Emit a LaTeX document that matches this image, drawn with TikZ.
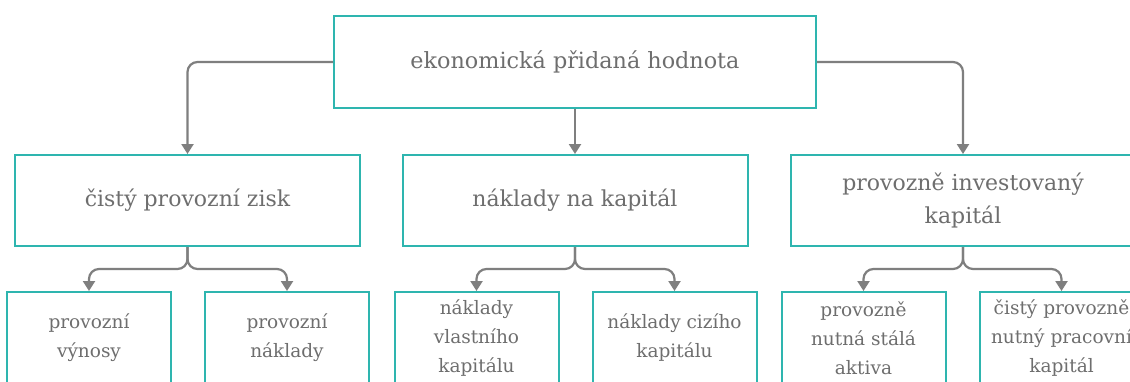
\documentclass[tikz,border=0pt]{standalone}
\usepackage{fontspec}
\setmainfont{DejaVu Serif}
\usetikzlibrary{arrows.meta}
\definecolor{boxline}{HTML}{2EB5AF}
\definecolor{txt}{HTML}{6E6E6E}
\definecolor{link}{HTML}{7F7F7F}
\tikzset{
  topbox/.style={draw=boxline, line width=2pt, fill=white, text=txt,
    minimum width=482pt, minimum height=92pt, align=center,
    font=\fontsize{22.3}{33}\selectfont, inner sep=0pt},
  midbox/.style={draw=boxline, line width=2pt, fill=white, text=txt,
    minimum width=345pt, minimum height=91pt, align=center,
    font=\fontsize{22}{33}\selectfont, inner sep=0pt},
  leafbox/.style={draw=boxline, line width=2pt, fill=white, text=txt,
    minimum width=164pt, minimum height=92pt, align=center,
    font=\fontsize{18.5}{29}\selectfont, inner sep=0pt},
  link/.style={draw=link, line width=2.2pt, rounded corners=10pt,
    -{Triangle[width=12pt,length=10pt]}},
}
\begin{document}
\begin{tikzpicture}[x=1pt,y=-1pt]
\clip (0,0) rectangle (1130,381);
\fill[white] (0,0) rectangle (1130,381);

% root
\node[topbox] (root) at (575,62) {ekonomická přidaná hodnota};

% second level
\node[midbox] (nopat) at (187.5,200.5) {čistý provozní zisk};
\node[midbox] (wacc) at (575,200.5) {náklady na kapitál};
\node[midbox] (cap) at (963,200.5) {provozně investovaný\\kapitál};

% leaves
\node[leafbox] (rev) at (89,338) {provozní\\výnosy};
\node[leafbox] (cost) at (287,338) {provozní\\náklady};
\node[leafbox] (eq) at (476.5,338) {náklady\\vlastního\\kapitálu};
\node[leafbox] (debt) at (674.5,338) {náklady cizího\\kapitálu};
\node[leafbox] (fix) at (863.5,338) {provozně\\nutná stálá\\aktiva};
\node[leafbox] (wc) at (1061.5,338) {čistý provozně\\nutný pracovní\\kapitál};

% root to second level
\draw[link] (root.west) -| (nopat.north);
\draw[link] (root.east) -| (cap.north);
\draw[link] (root.south) -- (wacc.north);

% second level to leaves
\foreach \p/\a/\b in {nopat/rev/cost, wacc/eq/debt, cap/fix/wc}{
  \draw[link] (\p.south) -- ++(0,22) -| (\a.north);
  \draw[link] (\p.south) -- ++(0,22) -| (\b.north);
}
\end{tikzpicture}
\end{document}
